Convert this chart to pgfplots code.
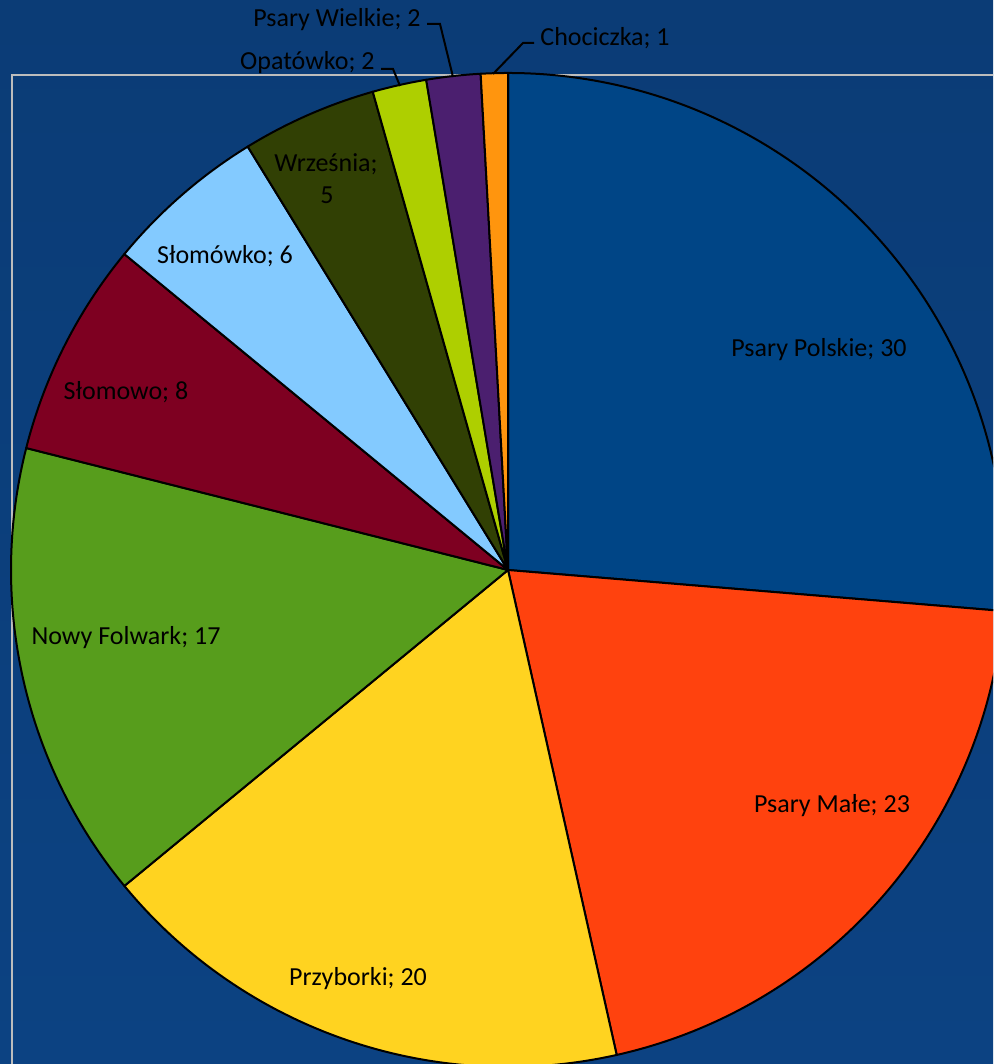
\documentclass[border=0pt]{standalone}
\usepackage{pgfplots}
\usepackage{pgfplotstable}
\pgfplotsset{compat=1.18}
\usepackage{fontspec}
\setmainfont{Carlito}
\definecolor{bgtop}{HTML}{0B3C76}
\definecolor{bgmid}{HTML}{0F4A8E}
\definecolor{bgbot}{HTML}{0C4282}
\definecolor{framecol}{HTML}{BDBDBD}
\definecolor{cA}{HTML}{004586}
\definecolor{cB}{HTML}{FF420E}
\definecolor{cC}{HTML}{FFD320}
\definecolor{cD}{HTML}{579D1C}
\definecolor{cE}{HTML}{7E0021}
\definecolor{cF}{HTML}{83CAFF}
\definecolor{cG}{HTML}{314004}
\definecolor{cH}{HTML}{AECF00}
\definecolor{cI}{HTML}{4B1F6F}
\definecolor{cJ}{HTML}{FF950E}
% Psary Polskie, Psary Male, Przyborki, Nowy Folwark, Slomowo, Slomowko, Wrzesnia, Opatowko, Psary Wielkie, Chociczka
\pgfplotstableread{
value col
30 cA
23 cB
20 cC
17 cD
8 cE
6 cF
5 cG
2 cH
2 cI
1 cJ
}\piedata
\begin{document}
\begin{tikzpicture}[lab/.style={font=\fontsize{13}{16}\selectfont,text=black,inner sep=0pt}]
\begin{axis}[x=0.5pt,y=0.5pt,scale only axis,
  xmin=0,xmax=993,ymin=0,ymax=1064,
  ticks=none,axis line style={draw=none},
  axis background/.style={top color=bgtop,middle color=bgmid,bottom color=bgbot},clip=true]
\draw[framecol,line width=1.1pt] (axis cs:12,-5) -- (axis cs:12,989) -- (axis cs:1000,989);
\def\total{0}
\pgfplotsforeachungrouped \i in {0,...,9}{%
  \pgfplotstablegetelem{\i}{value}\of\piedata
  \pgfmathsetmacro{\total}{\total+\pgfplotsretval}%
}
\def\cum{0}
\pgfplotsforeachungrouped \i in {0,...,9}{%
  \pgfplotstablegetelem{\i}{value}\of\piedata
  \let\pval\pgfplotsretval
  \pgfplotstablegetelem{\i}{col}\of\piedata
  \let\pcol\pgfplotsretval
  \pgfmathsetmacro{\pa}{90-(\cum/\total)*360}%
  \pgfmathsetmacro{\pb}{90-((\cum+\pval)/\total)*360}%
  \pgfmathsetmacro{\sx}{508+497*cos(\pa)}%
  \pgfmathsetmacro{\sy}{494+497*sin(\pa)}%
  \edef\temp{\noexpand\filldraw[fill=\pcol,draw=black,line width=1pt,line join=round] (axis cs:508,494) -- (axis cs:\sx,\sy) arc[start angle=\pa,end angle=\pb,radius=248.5pt] -- cycle;}%
  \temp
  \pgfmathsetmacro{\cum}{\cum+\pval}%
}
% leader lines
\draw[black,line width=1pt] (axis cs:427,1040) -- (axis cs:440,1040) -- (axis cs:453,987);
\draw[black,line width=1pt] (axis cs:381,995) -- (axis cs:393,995) -- (axis cs:400,978);
\draw[black,line width=1pt] (axis cs:534,1021) -- (axis cs:523,1021) -- (axis cs:493,990);
% labels
\node[lab,anchor=base] at (axis cs:819,707) {Psary Polskie; 30};
\node[lab,anchor=base] at (axis cs:832,251) {Psary Małe; 23};
\node[lab,anchor=base] at (axis cs:358,78) {Przyborki; 20};
\node[lab,anchor=base] at (axis cs:126,419) {Nowy Folwark; 17};
\node[lab,anchor=base] at (axis cs:126,664) {Słomowo; 8};
\node[lab,anchor=base] at (axis cs:225,800) {Słomówko; 6};
\node[lab,anchor=base] at (axis cs:326,892) {Września;};
\node[lab,anchor=base] at (axis cs:327,860) {5};
\node[lab,anchor=base east] at (axis cs:375,994) {Opatówko; 2};
\node[lab,anchor=base east] at (axis cs:421,1037) {Psary Wielkie; 2};
\node[lab,anchor=base west] at (axis cs:540,1018) {Chociczka; 1};
\end{axis}
\end{tikzpicture}
\end{document}
